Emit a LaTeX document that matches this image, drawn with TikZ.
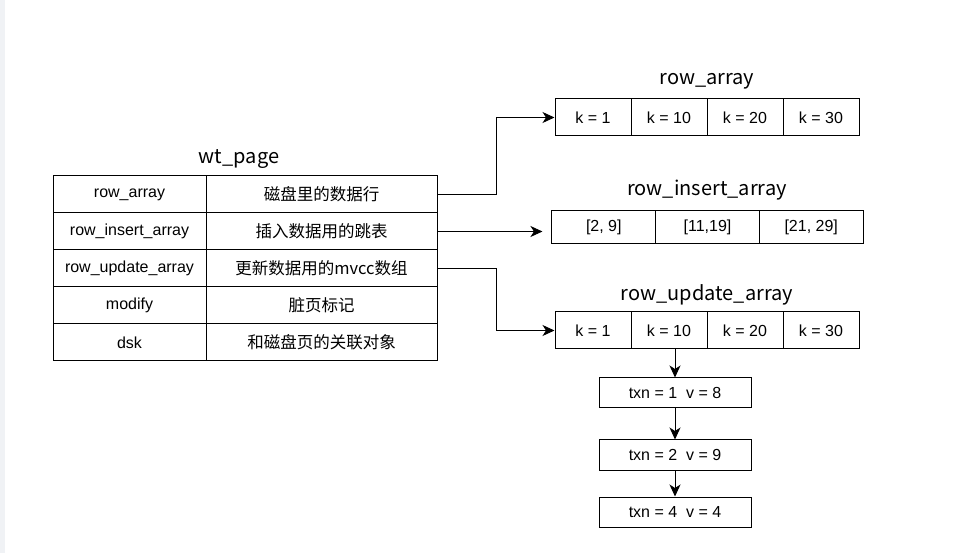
\documentclass[tikz,border=0pt]{standalone}
\usepackage{fontspec}
\setmainfont{Liberation Sans}
\newfontfamily\cjk{Noto Sans CJK SC}
\usepackage{tikz}
\usetikzlibrary{arrows.meta}
\definecolor{leftbar}{RGB}{240,242,245}
\tikzstyle{arraytitle} = [font=\cjk\fontsize{20}{24}\selectfont]
\tikzstyle{cell} = [rectangle, draw=black, line width=1pt, inner sep=0pt, text centered, font=\fontsize{16}{19}\selectfont]
\tikzstyle{keycell} = [cell, minimum width=153pt, minimum height=37pt]
\tikzstyle{valcell} = [cell, minimum width=231pt, minimum height=37pt, font=\cjk\fontsize{16.5}{19}\selectfont]
\tikzstyle{kcell} = [cell, minimum width=76pt, minimum height=37pt]
\tikzstyle{rangecell} = [cell, minimum width=103.7pt, minimum height=33pt]
\tikzstyle{txnbox} = [cell, minimum width=152pt, minimum height=30pt]
\tikzstyle{arrow} = [line width=1pt,-{Stealth[length=12pt,width=11pt,inset=3.5pt]}]

\begin{document}
\begin{tikzpicture}[x=1pt,y=-1pt,node distance=37pt]
\useasboundingbox (0,0) rectangle (978,553);
\fill[leftbar] (0,0) rectangle (5,553);

% wt_page table
\node(pagetitle)[arraytitle] at (239,159) {wt\_page};
\node(k1)[keycell] at (129.5,194.5) {row\_array};
\node(k2)[keycell,below of=k1] {row\_insert\_array};
\node(k3)[keycell,below of=k2] {row\_update\_array};
\node(k4)[keycell,below of=k3] {modify};
\node(k5)[keycell,below of=k4] {dsk};
\node(v1)[valcell] at (321.5,194.5) {磁盘里的数据行};
\node(v2)[valcell,below of=v1] {插入数据用的跳表};
\node(v3)[valcell,below of=v2] {更新数据用的mvcc数组};
\node(v4)[valcell,below of=v3] {脏页标记};
\node(v5)[valcell,below of=v4] {和磁盘页的关联对象};

% row_array
\node(ratitle)[arraytitle] at (707,81) {row\_array};
\node(ra1)[kcell] at (593,117.5) {k = 1};
\node(ra2)[kcell,node distance=76pt,right of=ra1] {k = 10};
\node(ra3)[kcell,node distance=76pt,right of=ra2] {k = 20};
\node(ra4)[kcell,node distance=76pt,right of=ra3] {k = 30};

% row_insert_array
\node(rititle)[arraytitle] at (707,190) {row\_insert\_array};
\node(ri1)[rangecell] at (603.8,227.5) {[2, 9]};
\node(ri2)[rangecell,node distance=103.7pt,right of=ri1] {[11,19]};
\node(ri3)[rangecell,node distance=103.7pt,right of=ri2] {[21, 29]};

% row_update_array
\node(rutitle)[arraytitle] at (707,295) {row\_update\_array};
\node(ru1)[kcell] at (593,330.5) {k = 1};
\node(ru2)[kcell,node distance=76pt,right of=ru1] {k = 10};
\node(ru3)[kcell,node distance=76pt,right of=ru2] {k = 20};
\node(ru4)[kcell,node distance=76pt,right of=ru3] {k = 30};

% mvcc chain
\node(t1)[txnbox] at (675,393) {txn = 1~~v = 8};
\node(t2)[txnbox] at (675,455) {txn = 2~~v = 9};
\node(t3)[txnbox] at (675,512) {txn = 4~~v = 4};

\draw [arrow] (v1.east) -- ++(59,0) |- (ra1.west);
\draw [arrow,shorten >=9pt] (v2.east) -- (v2.east -| ri1.west);
\draw [arrow] (v3.east) -- ++(59,0) |- (ru1.west);

\draw [arrow] (ru2.south -| t1.north) -- (t1.north);
\draw [arrow] (t1) -- (t2);
\draw [arrow] (t2) -- (t3);
\end{tikzpicture}
\end{document}
